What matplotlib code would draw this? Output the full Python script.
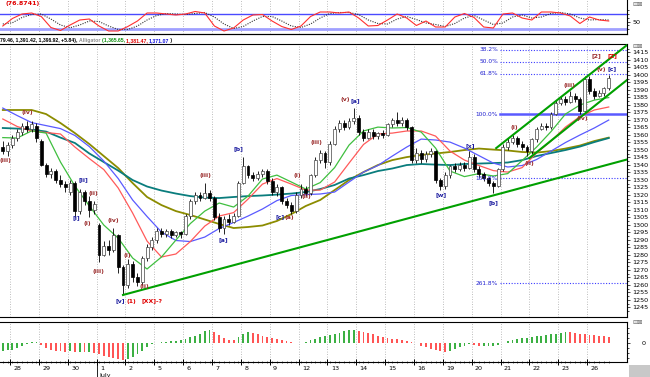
import matplotlib
matplotlib.use("Agg")
import matplotlib.pyplot as plt
import numpy as np
from matplotlib.patches import Rectangle

# ---- price bars (6 bars per day, first two bars belong to Jun 25) ----
opens = [1352, 1349,
         1353, 1358, 1362, 1366, 1364, 1366,
         1356, 1340, 1334, 1336, 1330, 1327,
         1322, 1328, 1309, 1322, 1316, 1310,
         1300, 1280, 1286, 1283, 1293, 1272,
         1260, 1274, 1265, 1262, 1278, 1285,
         1290, 1296, 1294, 1296, 1293, 1295,
         1294, 1306, 1316, 1320, 1318, 1321,
         1318, 1305, 1298, 1304, 1302, 1306,
         1328, 1339, 1333, 1331, 1334, 1336,
         1329, 1322, 1325, 1316, 1313, 1309,
         1320, 1324, 1321, 1333, 1343, 1348,
         1342, 1354, 1364, 1368, 1365, 1369,
         1371, 1362, 1358, 1362, 1359, 1361,
         1360, 1367, 1370, 1368, 1370, 1365,
         1343, 1348, 1344, 1347, 1349, 1330,
         1326, 1333, 1339, 1337, 1340, 1338,
         1345, 1337, 1334, 1331, 1328, 1326,
         1337, 1352, 1355, 1358, 1354, 1352,
         1349, 1357, 1364, 1366, 1365, 1374,
         1381, 1384, 1382, 1386, 1384, 1376,
         1397, 1389, 1386, 1388, 1391]
highs = [1356, 1355,
         1360, 1364, 1368, 1369, 1369, 1368,
         1357, 1341, 1338, 1337, 1333, 1329,
         1330, 1329, 1324, 1323, 1319, 1316,
         1301, 1289, 1290, 1298, 1294, 1273,
         1277, 1276, 1268, 1279, 1287, 1292,
         1298, 1298, 1297, 1297, 1296, 1296,
         1307, 1317, 1322, 1322, 1328, 1323,
         1319, 1308, 1306, 1307, 1308, 1329,
         1345, 1340, 1335, 1336, 1337, 1337,
         1331, 1327, 1326, 1318, 1315, 1322,
         1327, 1326, 1334, 1345, 1350, 1349,
         1356, 1366, 1370, 1370, 1371, 1378,
         1373, 1364, 1364, 1364, 1362, 1363,
         1368, 1371, 1375, 1372, 1371, 1366,
         1351, 1350, 1349, 1351, 1350, 1331,
         1335, 1340, 1341, 1342, 1342, 1349,
         1347, 1339, 1335, 1332, 1329, 1338,
         1354, 1358, 1360, 1359, 1356, 1353,
         1358, 1365, 1368, 1368, 1375, 1383,
         1386, 1386, 1389, 1388, 1385, 1399,
         1399, 1391, 1390, 1392, 1400]
lows = [1347, 1346,
        1351, 1356, 1360, 1362, 1362, 1355,
        1339, 1332, 1331, 1328, 1325, 1322,
        1320, 1305, 1307, 1313, 1305, 1307,
        1275, 1279, 1280, 1282, 1268, 1254,
        1258, 1262, 1259, 1260, 1276, 1283,
        1288, 1292, 1292, 1291, 1292, 1291,
        1293, 1304, 1314, 1316, 1317, 1316,
        1303, 1295, 1294, 1300, 1301, 1305,
        1327, 1331, 1329, 1330, 1332, 1327,
        1320, 1319, 1314, 1311, 1307, 1308,
        1318, 1319, 1320, 1332, 1341, 1338,
        1340, 1353, 1362, 1363, 1364, 1367,
        1360, 1356, 1357, 1357, 1357, 1358,
        1359, 1365, 1366, 1366, 1363, 1341,
        1341, 1341, 1342, 1345, 1328, 1323,
        1324, 1331, 1335, 1336, 1336, 1337,
        1335, 1332, 1329, 1326, 1321, 1325,
        1336, 1350, 1354, 1352, 1350, 1346,
        1347, 1355, 1363, 1363, 1364, 1373,
        1380, 1380, 1381, 1382, 1374, 1375,
        1387, 1384, 1385, 1386, 1390]
closes = [1349, 1353,
          1358, 1362, 1366, 1364, 1367, 1358,
          1340, 1334, 1336, 1330, 1327, 1325,
          1328, 1309, 1322, 1316, 1310, 1314,
          1280, 1286, 1283, 1293, 1272, 1260,
          1274, 1265, 1262, 1278, 1285, 1290,
          1296, 1294, 1296, 1293, 1295, 1294,
          1306, 1316, 1320, 1318, 1321, 1318,
          1305, 1298, 1304, 1302, 1306, 1328,
          1339, 1333, 1331, 1334, 1336, 1329,
          1322, 1325, 1316, 1313, 1309, 1320,
          1324, 1321, 1333, 1343, 1348, 1342,
          1354, 1364, 1368, 1365, 1369, 1371,
          1362, 1358, 1362, 1359, 1361, 1360,
          1367, 1370, 1368, 1370, 1365, 1343,
          1348, 1344, 1347, 1349, 1330, 1326,
          1333, 1339, 1337, 1340, 1338, 1345,
          1337, 1334, 1331, 1328, 1326, 1337,
          1352, 1355, 1358, 1354, 1352, 1349,
          1357, 1364, 1366, 1365, 1374, 1381,
          1384, 1382, 1386, 1384, 1376, 1397,
          1389, 1386, 1388, 1391, 1398]

# ---- alligator / moving average lines, sampled every 3 bars ----
ma_olive = [1376.6, 1376.6, 1376.6, 1373.9, 1367.9, 1361.2, 1353.9, 1345.9, 1337.9, 1327.9,
            1318.6, 1313.2, 1309.2, 1306.6, 1303.6, 1300.6, 1297.9, 1298.6, 1299.6, 1302.6,
            1307.2, 1312.6, 1316.6, 1323.2, 1329.9, 1335.2, 1339.9, 1343.2, 1345.2, 1346.6,
            1347.6, 1348.6, 1349.9, 1350.9, 1350.2, 1349.6, 1348.6, 1348.2, 1349.2, 1350.9,
            1352.9, 1355.9, 1358.2]
ma_teal = [1364.6, 1364.2, 1363.6, 1362.2, 1358.2, 1354.6, 1347.6, 1341.9, 1336.2, 1329.9,
           1325.6, 1322.9, 1320.9, 1319.2, 1318.2, 1317.9, 1318.6, 1319.2, 1319.6, 1320.2,
           1320.9, 1321.9, 1323.9, 1326.6, 1330.9, 1333.2, 1335.9, 1337.6, 1339.9, 1340.6,
           1340.2, 1339.9, 1340.6, 1340.9, 1341.2, 1341.6, 1343.2, 1345.9, 1347.9, 1349.9,
           1352.2, 1355.2, 1357.9]
ma_blue = [1377.9, 1372.9, 1368.2, 1366.2, 1364.2, 1359.6, 1352.2, 1342.6, 1330.9, 1316.6,
           1305.6, 1295.2, 1289.6, 1288.9, 1291.9, 1297.6, 1301.6, 1305.9, 1310.6, 1316.2,
           1319.6, 1320.2, 1320.6, 1321.9, 1328.6, 1335.2, 1339.6, 1345.9, 1351.9, 1357.2,
           1356.6, 1355.2, 1351.2, 1346.2, 1341.2, 1338.6, 1339.6, 1343.6, 1349.2, 1354.9,
           1359.9, 1364.6, 1369.9]
ma_red = [1370.6, 1365.6, 1362.6, 1361.6, 1360.6, 1351.9, 1344.2, 1336.9, 1324.6, 1307.9,
          1289.2, 1278.6, 1280.6, 1288.9, 1299.2, 1305.9, 1308.2, 1317.2, 1327.2, 1330.9,
          1327.2, 1323.2, 1323.2, 1328.6, 1341.2, 1353.6, 1360.6, 1361.2, 1362.6, 1362.6,
          1359.2, 1349.2, 1343.2, 1339.6, 1336.2, 1335.2, 1338.2, 1347.9, 1355.9, 1365.2,
          1372.2, 1376.6, 1378.6]
ma_green = [1358.2, 1357.9, 1362.7, 1361.2, 1341.9, 1325.9, 1312.6, 1299.9, 1291.2, 1277.9,
            1270.6, 1278.6, 1289.9, 1300.9, 1309.2, 1314.6, 1311.9, 1319.2, 1330.6, 1333.2,
            1328.6, 1323.9, 1328.2, 1338.2, 1353.2, 1362.6, 1365.2, 1364.6, 1364.9, 1361.9,
            1351.2, 1335.9, 1332.2, 1334.2, 1332.6, 1334.2, 1342.9, 1351.9, 1362.2, 1373.9,
            1379.9, 1383.2, 1384.9]

# ---- stochastic (top panel), sampled every 2 bars ----
stoch_k = [32, 62, 80, 84, 70, 26, 14, 36, 56, 60,
           32, 12, 12, 30, 52, 84, 84, 80, 76, 80,
           90, 84, 32, 12, 24, 56, 76, 78, 52, 30,
           18, 32, 70, 88, 88, 84, 88, 64, 32, 34,
           56, 80, 64, 34, 52, 28, 28, 68, 82, 66,
           28, 24, 80, 84, 64, 56, 88, 88, 84, 72,
           42, 68, 56, 52]
stoch_d = [40, 45, 66, 78, 80, 60, 36, 25, 36, 52,
           50, 32, 18, 18, 32, 56, 74, 82, 80, 78,
           82, 86, 68, 40, 22, 30, 52, 70, 70, 52,
           32, 26, 40, 64, 82, 86, 86, 78, 56, 42,
           40, 60, 70, 58, 44, 38, 30, 42, 64, 74,
           56, 38, 44, 68, 76, 64, 68, 82, 86, 80,
           64, 56, 58, 56]

# ---- awesome oscillator (bottom panel), one value per bar ----
ao = [-7.8, -7.4, -7.0, -5.4, -3.2, -1.0, 0.3, 0.5, -2.3, -5.3,
      -6.8, -8.0, -8.5, -9.0, -8.7, -9.3, -9.0, -9.6, -9.4, -10.0,
      -11.6, -13.6, -14.6, -15.7, -16.7, -17.4, -16.4, -14.0, -11.0, -8.0,
      -4.5, -1.5, -0.3, 0.7, 1.1, 1.5, 2.0, 2.4, 3.5, 5.5,
      7.2, 9.2, 11.5, 12.9, 10.5, 8.0, 5.0, 2.6, 2.5, 5.5,
      8.6, 10.6, 9.9, 8.5, 7.1, 5.8, 4.6, 3.3, 2.3, 1.4,
      0.6, 0.1, 0.2, 1.0, 2.5, 4.0, 5.3, 6.6, 7.9, 9.1,
      10.2, 11.3, 12.4, 12.9, 12.1, 11.1, 9.7, 8.3, 6.9, 5.9,
      4.9, 4.1, 3.4, 2.7, 2.0, 1.2, -0.5, -3.0, -4.6, -6.0,
      -7.3, -8.4, -9.1, -7.9, -6.3, -4.7, -3.1, -1.6, -2.1, -3.4,
      -3.3, -3.2, -3.0, -2.3, -0.5, 2.0, 3.0, 3.8, 4.5, 5.2,
      5.8, 6.3, 6.9, 7.6, 8.3, 9.1, 9.8, 10.6, 10.3, 9.7,
      9.2, 8.8, 8.2, 7.5, 6.9, 6.3, 5.8]

day_labels = ['28', '29', '30', '1', '2', '5', '6', '7', '8', '9', '12',
              '13', '14', '15', '16', '19', '20', '21', '22', '23', '26']

fib_levels = [1416.6, 1408.6, 1400.6, 1373.9, 1331.2, 1261.2]
fib_names = ['38.2%', '50.0%', '61.8%', '100.0%', '161.8%', '261.8%']

# trendlines: (bar start, bar end), (price start, price end)
trend_x = [(25.0, 129.8), (102.6, 129.8), (109.5, 129.8)]
trend_y = [(1253.3, 1343.6), (1351.2, 1419.9), (1344.6, 1396.6)]

# wave labels: text, bar, price, colour
MAROON = '#9a2a2a'
NAVY = '#1c1ca0'
RED = '#e00000'
waves = [
    ('(iii)', 0.6, 1343.2, MAROON), ('(iv)', 5.0, 1374.6, MAROON),
    ('[i]', 15.2, 1304.6, NAVY), ('[ii]', 16.7, 1329.9, NAVY),
    ('(i)', 17.6, 1301.2, MAROON), ('(ii)', 18.8, 1321.2, MAROON),
    ('(iii)', 19.8, 1269.2, MAROON), ('(iv)', 22.9, 1302.6, MAROON),
    ('[v]', 24.4, 1249.2, NAVY), ('(1)', 26.8, 1249.2, RED), ('[XX]-?', 31.0, 1249.2, RED),
    ('(i)', 25.8, 1279.9, MAROON), ('(ii)', 29.5, 1259.2, MAROON),
    ('(iii)', 42.2, 1333.2, MAROON), ('[a]', 45.9, 1289.9, NAVY),
    ('[b]', 49.0, 1350.6, NAVY), ('[c]', 57.6, 1305.2, NAVY), ('(a)', 59.6, 1305.2, MAROON),
    ('(i)', 61.3, 1332.6, MAROON), ('(ii)', 63.2, 1318.6, MAROON),
    ('(iii)', 65.2, 1355.2, MAROON), ('(v)', 71.3, 1383.9, MAROON),
    ('[a]', 73.3, 1382.6, NAVY), ('[w]', 91.2, 1319.9, NAVY),
    ('[x]', 97.2, 1352.6, NAVY), ('[b]', 102.0, 1314.6, NAVY),
    ('(i)', 106.3, 1364.6, MAROON), ('(ii)', 109.4, 1341.2, MAROON),
    ('(iii)', 117.8, 1392.6, MAROON), ('(iv)', 120.5, 1371.2, MAROON),
    ('(v)', 124.4, 1403.9, MAROON), ('[c]', 126.7, 1403.9, NAVY),
    ('[2]', 123.4, 1412.6, MAROON), ('[Z]', 126.7, 1412.6, RED),
]

# ------------------------------------------------------------------
W, H = 650, 377
fig = plt.figure(figsize=(W / 100, H / 100), dpi=100)
fig.patch.set_facecolor('white')
right = 627 / W
ax_st = fig.add_axes([0, 1 - 34 / H, right, 34 / H])
ax = fig.add_axes([0, 1 - 317 / H, right, 273 / H])
ax_ao = fig.add_axes([0, 1 - 362 / H, right, 40 / H])

xlim = (-0.58, 129.8)
grid_x = [1.5 + 6 * k for k in range(len(day_labels))]
fs = 4.6

for a in (ax_st, ax, ax_ao):
    a.set_xlim(*xlim)
    a.yaxis.tick_right()
    a.spines['left'].set_visible(False)
    for s in ('top', 'bottom', 'right'):
        a.spines[s].set_linewidth(0.8)
    a.set_xticks([])
    for g in grid_x:
        a.axvline(g, color='#a8a8a8', ls=(0, (1, 2)), lw=0.6, zorder=0)
    a.tick_params(axis='y', labelsize=fs, length=2.5, width=0.5, pad=1.5, which='major')
    a.tick_params(axis='y', length=1.5, width=0.5, which='minor')

# ---- main price panel ----
n = len(closes)
idx = np.arange(n)
o = np.array(opens)
c = np.array(closes)
up = c >= o
ax.vlines(idx, lows, highs, color='black', lw=0.6, zorder=3)
body_lo = np.minimum(o, c)
body_h = np.maximum(np.abs(c - o), 0.6)
ax.bar(idx[up], body_h[up], bottom=body_lo[up], width=0.6,
       color='white', edgecolor='#444444', linewidth=0.5, zorder=4)
ax.bar(idx[~up], body_h[~up], bottom=body_lo[~up], width=0.6,
       color='black', edgecolor='black', linewidth=0.5, zorder=4)

ma_x = np.arange(0, n, 3)
ax.plot(ma_x, ma_olive, color='#8c8c00', lw=1.3, zorder=2)
ax.plot(ma_x, ma_teal, color='#0a7d7d', lw=1.3, zorder=2)
ax.plot(ma_x, ma_blue, color='#5a5aff', lw=0.9, zorder=2)
ax.plot(ma_x, ma_red, color='#ff5a5a', lw=0.9, zorder=2)
ax.plot(ma_x, ma_green, color='#3fbf3f', lw=0.9, zorder=2)

for (x0, x1), (y0, y1) in zip(trend_x, trend_y):
    ax.plot([x0, x1], [y0, y1], color='#00a000', lw=1.5, zorder=5, clip_on=True)

fib_start = 103.4
for lvl, name in zip(fib_levels, fib_names):
    if name == '100.0%':
        ax.plot([fib_start, xlim[1]], [lvl, lvl], color='#5a5aff', lw=1.8, zorder=1)
    else:
        ax.plot([fib_start, xlim[1]], [lvl, lvl], color='#3c3cff', lw=0.8,
                ls=(0, (1, 1.5)), zorder=1)
    ax.text(fib_start - 0.4, lvl, name, color='#2020d0', fontsize=4.2,
            ha='right', va='center', zorder=6)

for txt, xi, pr, col in waves:
    ax.text(xi, pr, txt, color=col, fontsize=4.4, fontweight='bold',
            ha='center', va='center', zorder=7)

ax.set_ylim(1238.6, 1420.6)
ax.set_yticks(np.arange(1245, 1420, 5))
ax.set_yticks(np.arange(1242.5, 1420, 5), minor=True)
ax.set_yticklabels([str(v) for v in range(1245, 1420, 5)])

# ---- stochastic panel ----
st_x = np.arange(0, n, 2)
ax_st.axhline(80, color='#4a4aff', lw=1.0, zorder=1)
ax_st.axhline(20, color='#a0a0ff', lw=2.0, zorder=1)
ax_st.plot(st_x, stoch_d, color='#333333', lw=0.8, ls=(0, (1, 1.2)), zorder=2)
ax_st.plot(st_x, stoch_k, color='#ff3030', lw=0.8, zorder=3)
ax_st.set_ylim(0, 136)
ax_st.set_yticks([50])
ax_st.set_yticks([20, 35, 65, 80, 95], minor=True)
ax_st.spines['top'].set_visible(False)
ax_st.text(0.5, 124, '(76.8741)', color=RED, fontsize=fs, fontweight='bold',
           ha='left', va='center')

# ---- AO panel ----
ao_arr = np.array(ao)
prev = np.concatenate([[ao_arr[0] - 1], ao_arr[:-1]])
ao_cols = np.where(ao_arr > prev, '#3cb043', '#ff5555')
ax_ao.bar(idx, ao_arr, width=0.38, color=ao_cols, zorder=2)
ax_ao.set_ylim(-19.3, 20.7)
ax_ao.set_yticks([0])
ax_ao.set_yticks([-15, -10, -5, 5, 10, 15], minor=True)
ax_ao.tick_params(axis='y', pad=8)

# x axis along the bottom of the AO panel
ax_ao.set_xticks(grid_x)
ax_ao.set_xticklabels([])
ax_ao.set_xticks(idx, minor=True)
ax_ao.tick_params(axis='x', which='major', length=4, width=0.7, direction='inout')
ax_ao.tick_params(axis='x', which='minor', length=1.8, width=0.4, direction='inout')
xt = ax_ao.get_xaxis_transform()
for g, lab in zip(grid_x, day_labels):
    ax_ao.text(g + 0.7, -0.1, lab, transform=xt, fontsize=fs, ha='left', va='top')
ax_ao.text(grid_x[3] + 0.5, -0.27, 'July', transform=xt, fontsize=fs, ha='left', va='top')
ax_ao.plot([grid_x[3], grid_x[3]], [-0.38, 0], transform=xt, color='black',
           lw=0.6, clip_on=False)

# ---- header line of the main panel ----
renderer = fig.canvas.get_renderer()
hx = 0.0
hy = 1 - 40.5 / H
parts = [('79.46, 1,391.42, 1,396.92, +5.84), ', 'black'),
         ('Alligator ', '#8a8a8a'),
         ('(1,365.65, ', '#109010'),
         ('1,381.47, ', RED),
         ('1,371.07', '#1010e0'),
         (' )', 'black')]
for s, col in parts:
    t = fig.text(hx, hy, s, color=col, fontsize=3.7, family='Liberation Sans',
                 fontweight='bold', ha='left', va='center')
    bb = t.get_window_extent(renderer=renderer)
    hx = bb.x1 / fig.bbox.width
fig.add_artist(plt.Line2D([0, right], [1 - 34 / H, 1 - 34 / H],
                          transform=fig.transFigure, color='black', lw=0.8))

# panel buttons and corner box
for yy in (4, 46, 322.5):
    fig.text(638 / W, 1 - yy / H, '\u229f\u22a0', color='#666666', fontsize=4.5,
             ha='center', va='center')
fig.add_artist(Rectangle((629 / W, 0), 21 / W, 12 / H, transform=fig.transFigure,
                         facecolor='#c8c8c8', edgecolor='none'))

fig.savefig('out.png', dpi=100)
